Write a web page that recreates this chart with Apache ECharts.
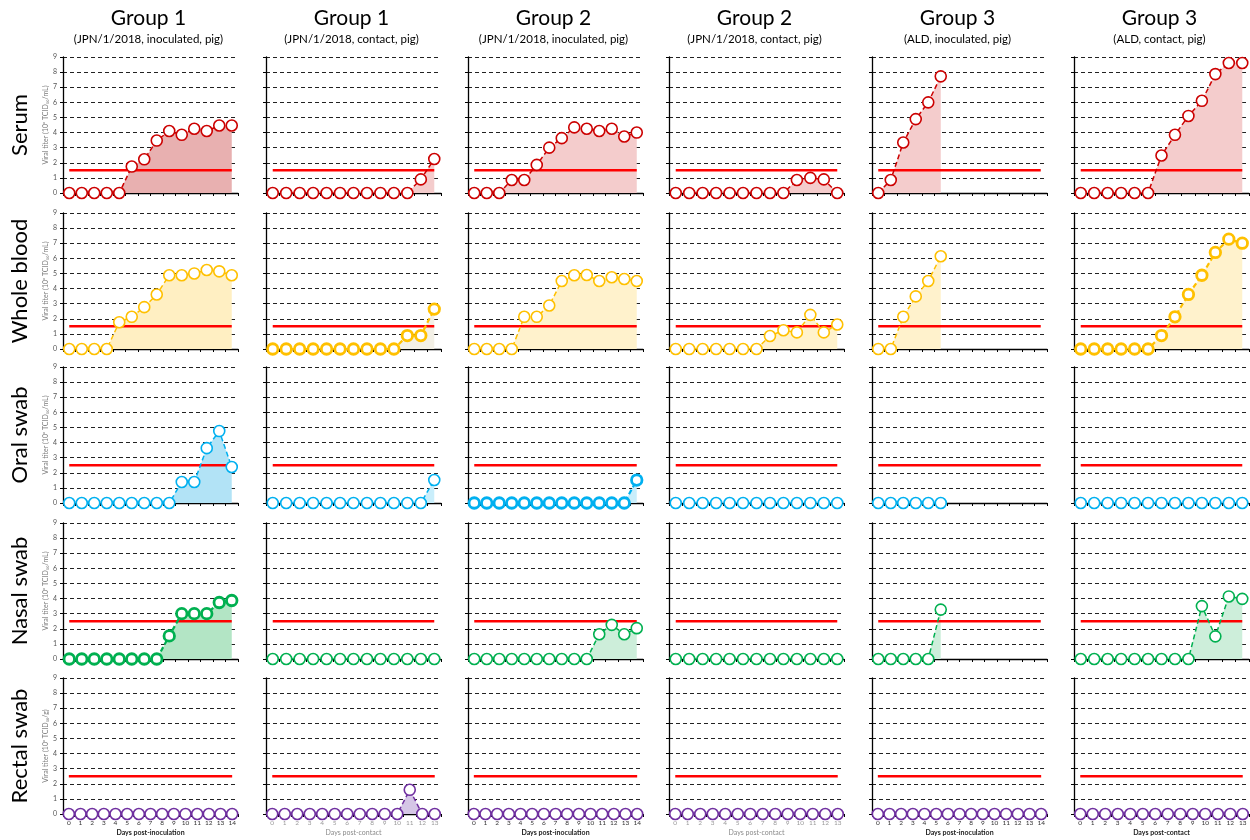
<!DOCTYPE html>
<html><head><meta charset="utf-8">
<script src="https://cdn.jsdelivr.net/npm/echarts/dist/echarts.min.js"></script>
<style>html,body{margin:0;padding:0;background:#fff}#c{width:1250px;height:840px}</style>
</head><body><div id="c"></div>
<script>
// ---- categories (days) ----
const daysInoc = ['0','1','2','3','4','5','6','7','8','9','10','11','12','13'];
const daysContact = ['0','1','2','3','4','5','6','7','8','9','10','11','12'];
const daysInocRectal = ['0','1','2','3','4','5','6','7','8','9','10','11','12','13','14'];
const daysContactRectal = ['0','1','2','3','4','5','6','7','8','9','10','11','12','13'];
const yTicks = [0,1,2,3,4,5,6,7,8,9];

// ---- titles ----
const groupTitles = ['Group 1','Group 1','Group 2','Group 2','Group 3','Group 3'];
const groupSubtitles = ['(JPN/1/2018, inoculated, pig)','(JPN/1/2018, contact, pig)','(JPN/1/2018, inoculated, pig)','(JPN/1/2018, contact, pig)','(ALD, inoculated, pig)','(ALD, contact, pig)'];
const rowLabels = ['Serum','Whole blood','Oral swab','Nasal swab','Rectal swab'];
const xAxisNames = ['Days post-inoculation','Days post-contact','Days post-inoculation','Days post-contact','Days post-inoculation','Days post-contact'];

// ---- detection limits ----
const limitBlood = 1.5;
const limitSwab = 2.5;

// ---- Serum ----
const serumG1Inoc = [0,0,0,0,0,1.75,2.23,3.47,4.1,3.85,4.25,4.1,4.47,4.47];
const serumG1Cont = [0,0,0,0,0,0,0,0,0,0,0,0.9,2.25];
const serumG2Inoc = [0,0,0,0.86,0.86,1.86,3.0,3.63,4.34,4.25,4.1,4.25,3.74,4.0];
const serumG2Cont = [0,0,0,0,0,0,0,0,0,0.86,1.0,0.9,0];
const serumG3Inoc = [0,0.86,3.34,4.89,6.0,7.72];
const serumG3Cont = [0,0,0,0,0,0,2.48,3.85,5.1,6.1,7.87,8.6,8.6];
// ---- Whole blood ----
const bloodG1Inoc = [0,0,0,0,1.77,2.13,2.77,3.61,4.88,4.88,5.0,5.23,5.14,4.88];
const bloodG1Cont = [0,0,0,0,0,0,0,0,0,0,0.89,0.89,2.64];
const bloodG2Inoc = [0,0,0,0,2.13,2.13,2.88,4.5,4.88,4.9,4.5,4.75,4.63,4.5];
const bloodG2Cont = [0,0,0,0,0,0,0,0.86,1.24,1.1,2.26,1.1,1.62];
const bloodG3Inoc = [0,0,2.13,3.48,4.5,6.14];
const bloodG3Cont = [0,0,0,0,0,0,0.89,2.13,3.61,4.88,6.39,7.27,7.0];
// ---- Oral swab ----
const oralG1Inoc = [0,0,0,0,0,0,0,0,0,1.39,1.39,3.63,4.76,2.38];
const oralG1Cont = [0,0,0,0,0,0,0,0,0,0,0,0,1.52];
const oralG2Inoc = [0,0,0,0,0,0,0,0,0,0,0,0,0,1.52];
const oralG2Cont = [0,0,0,0,0,0,0,0,0,0,0,0,0];
const oralG3Inoc = [0,0,0,0,0,0];
const oralG3Cont = [0,0,0,0,0,0,0,0,0,0,0,0,0];
// ---- Nasal swab ----
const nasalG1Inoc = [0,0,0,0,0,0,0,0,1.53,3.0,3.0,3.0,3.74,3.87];
const nasalG1Cont = [0,0,0,0,0,0,0,0,0,0,0,0,0];
const nasalG2Inoc = [0,0,0,0,0,0,0,0,0,0,1.64,2.26,1.64,2.04];
const nasalG2Cont = [0,0,0,0,0,0,0,0,0,0,0,0,0];
const nasalG3Inoc = [0,0,0,0,0,3.27];
const nasalG3Cont = [0,0,0,0,0,0,0,0,0,3.5,1.5,4.14,3.98];
// ---- Rectal swab ----
const rectalG1Inoc = [0,0,0,0,0,0,0,0,0,0,0,0,0,0,0];
const rectalG1Cont = [0,0,0,0,0,0,0,0,0,0,0,1.6,0,0];
const rectalG2Inoc = [0,0,0,0,0,0,0,0,0,0,0,0,0,0,0];
const rectalG2Cont = [0,0,0,0,0,0,0,0,0,0,0,0,0,0];
const rectalG3Inoc = [0,0,0,0,0,0,0,0,0,0,0,0,0,0,0];
const rectalG3Cont = [0,0,0,0,0,0,0,0,0,0,0,0,0,0];

// ---- assemble ----
const panelData = [
  [serumG1Inoc, serumG1Cont, serumG2Inoc, serumG2Cont, serumG3Inoc, serumG3Cont],
  [bloodG1Inoc, bloodG1Cont, bloodG2Inoc, bloodG2Cont, bloodG3Inoc, bloodG3Cont],
  [oralG1Inoc, oralG1Cont, oralG2Inoc, oralG2Cont, oralG3Inoc, oralG3Cont],
  [nasalG1Inoc, nasalG1Cont, nasalG2Inoc, nasalG2Cont, nasalG3Inoc, nasalG3Cont],
  [rectalG1Inoc, rectalG1Cont, rectalG2Inoc, rectalG2Cont, rectalG3Inoc, rectalG3Cont]
];
const rowLimits = [limitBlood, limitBlood, limitSwab, limitSwab, limitSwab];
const yNames = ['Viral titer (10\u02E3 TCID\u2085\u2080/mL)','Viral titer (10\u02E3 TCID\u2085\u2080/mL)','Viral titer (10\u02E3 TCID\u2085\u2080/mL)','Viral titer (10\u02E3 TCID\u2085\u2080/mL)','Viral titer (10\u02E3 TCID\u2085\u2080/g)'];

// styles
const lineColors = ['#CC0000','#FFC000','#00B0F0','#00B050','#7030A0'];
const areaColors = [
  ['#E8B0B0','#F4CCCC','#F4CCCC','#F4CCCC','#F4CCCC','#F4CCCC'],
  ['#FFEFC2','#F3F0E6','#FFF2CC','#FFF2CC','#FFF2CC','#FFF2CC'],
  ['#B2E3F6','#C9EEFB','#C9EEFB','#C9EEFB','#C9EEFB','#C9EEFB'],
  ['#B3E5C5','#CDEEDA','#CDEEDA','#CDEEDA','#CDEEDA','#CDEEDA'],
  ['#D5C6E6','#D5C6E6','#D5C6E6','#D5C6E6','#D5C6E6','#D5C6E6']
];
const boldPanels = {'1-1':1,'1-5':1,'2-2':1,'3-0':1};
const colLeft = [63,266,468,669,872,1074];
const colWidth = 175;
const rowTop = [57,213,367,523,678];
const rowHeight = 136;
const FONT = 'Lato, "Open Sans", sans-serif';

const grids=[], xAxes=[], yAxes=[], series=[], graphics=[];
for (let r=0;r<5;r++){
  for (let c=0;c<6;c++){
    const idx = grids.length;
    const inoc = c%2===0;
    const cats = r===4 ? (inoc?daysInocRectal:daysContactRectal) : (inoc?daysInoc:daysContact);
    grids.push({left:colLeft[c], top:rowTop[r], width:colWidth, height:rowHeight});
    const dim = (r===4 && (c===1||c===3));
    xAxes.push({
      type:'category', gridIndex:idx, data:cats, boundaryGap:true,
      axisLine:{lineStyle:{color:'#000',width:1.3}},
      axisTick:{show:true,length:3,inside:false,lineStyle:{color:'#000'}},
      axisLabel:{show:r===4, fontSize:6.5, color:dim?'#9a9a9a':'#333', margin:5, interval:0, fontFamily:FONT},
      name: r===4 ? xAxisNames[c] : '',
      nameLocation:'middle', nameGap:15,
      nameTextStyle:{fontSize:7, fontWeight: dim?'normal':'bold', color: dim?'#8a8a8a':'#222', fontFamily:FONT}
    });
    yAxes.push({
      type:'value', gridIndex:idx, min:0, max:9, interval:1,
      axisLine:{show:true,lineStyle:{color:'#000',width:1.3}},
      axisTick:{show:true,length:3,lineStyle:{color:'#000'}},
      axisLabel:{show:c===0, fontSize:7, color:'#555', margin:6, fontFamily:FONT},
      splitLine:{show:true,lineStyle:{color:'#222',type:[4,3],width:1}},
      name: c===0 ? yNames[r] : '', nameLocation:'middle', nameRotate:90, nameGap:14,
      nameTextStyle:{fontSize:7, color:'#7a7a7a', fontFamily:FONT}
    });
    const d = panelData[r][c];
    const bold = boldPanels[r+'-'+c];
    // area fill
    series.push({type:'line', xAxisIndex:idx, yAxisIndex:idx, data:d, symbol:'none', silent:true,
      lineStyle:{width:0}, areaStyle:{color:areaColors[r][c], opacity:1}, z:1, animation:false});
    // detection limit line
    series.push({type:'line', xAxisIndex:idx, yAxisIndex:idx, data:cats.map(()=>rowLimits[r]), symbol:'none', silent:true,
      lineStyle:{color:'#FF0000', width:2.5}, z:2, animation:false});
    // data line with circles
    series.push({type:'line', xAxisIndex:idx, yAxisIndex:idx, data:d, symbol:'circle', showAllSymbol:true,
      symbolSize: bold?10.5:11,
      itemStyle:{color:'#fff', borderColor:lineColors[r], borderWidth: bold?2.8:1.6},
      lineStyle:{color:lineColors[r], width: bold?2.2:1.5, type:[5,3]}, z:3, animation:false});
  }
}
for (let c=0;c<6;c++){
  const cx = colLeft[c]+colWidth/2 - 2;
  graphics.push({type:'text', x:cx, y:18, style:{text:groupTitles[c], fontSize:21, fontFamily:FONT, fill:'#000', textAlign:'center', textVerticalAlign:'middle'}});
  graphics.push({type:'text', x:cx, y:39, style:{text:groupSubtitles[c], fontSize:11.5, fontFamily:FONT, fill:'#000', textAlign:'center', textVerticalAlign:'middle'}});
}
for (let r=0;r<5;r++){
  graphics.push({type:'text', x:20, y:rowTop[r]+rowHeight/2, rotation:Math.PI/2,
    style:{text:rowLabels[r], fontSize:22, fontFamily:FONT, fill:'#000', textAlign:'center', textVerticalAlign:'middle'}});
}

const chart = echarts.init(document.getElementById('c'), null, {renderer:'canvas'});
chart.setOption({animation:false, backgroundColor:'#fff', grid:grids, xAxis:xAxes, yAxis:yAxes, series:series, graphic:graphics});
</script></body></html>
